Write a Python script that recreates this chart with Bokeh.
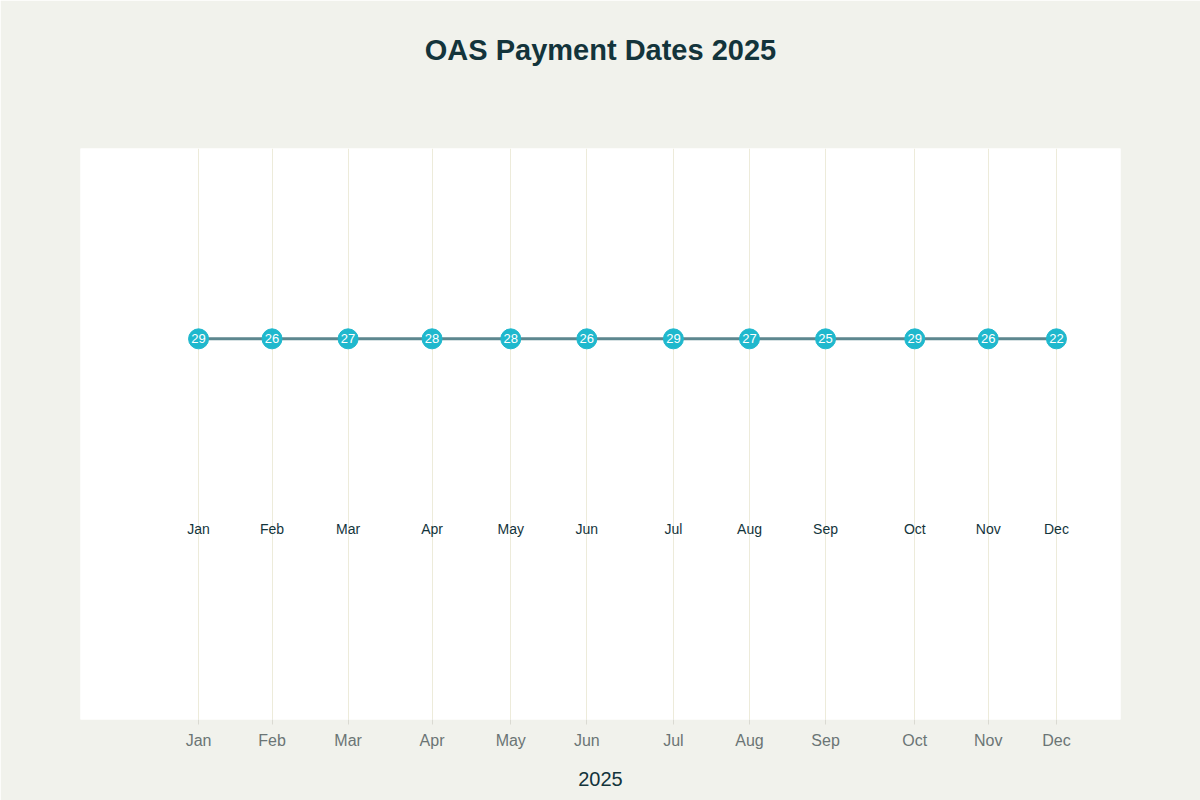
from datetime import datetime
from bokeh.plotting import figure
from bokeh.models import ColumnDataSource, FixedTicker, Range1d, Title
from bokeh.core.properties import value
from bokeh.embed import file_html
from bokeh.resources import INLINE

# ---- data ----
months = ["Jan", "Feb", "Mar", "Apr", "May", "Jun", "Jul", "Aug", "Sep", "Oct", "Nov", "Dec"]
pay_days = [29, 26, 27, 28, 28, 26, 29, 27, 25, 29, 26, 22]
year = 2025
marker_level = 1
label_level = -1

dates = [datetime(year, i + 1, d) for i, d in enumerate(pay_days)]
ms = [(dt - datetime(1970, 1, 1)).total_seconds() * 1000 for dt in dates]

src = ColumnDataSource(dict(
    x=dates,
    y=[marker_level] * len(dates),
    ly=[label_level] * len(dates),
    day=[str(d) for d in pay_days],
    month=months,
))

BG = "#F1F2EC"
TITLE_C = "#13343B"
FONT = "Liberation Sans"

p = figure(width=1200, height=800, x_axis_type="datetime",
           output_backend="svg", toolbar_location=None,
           x_range=Range1d(datetime(2024, 12, 15), datetime(2026, 1, 15, 10)),
           y_range=Range1d(-3, 3),
           min_border_left=80, min_border_right=80,
           min_border_top=0, min_border_bottom=81)

p.background_fill_color = "white"
p.border_fill_color = BG
p.outline_line_color = None

p.title.text = "OAS Payment Dates 2025"
p.title.align = "center"
p.title.text_font = FONT
p.title.text_font_size = "29px"
p.title.text_font_style = "bold"
p.title.text_color = TITLE_C
p.title.standoff = 62

# spacer between title and plot frame
spacer = Title(text=" ", text_font_size="20px", standoff=28)
p.add_layout(spacer, "above")

p.line("x", "y", source=src, line_color="#5D878F", line_width=3)
p.scatter("x", "y", source=src, size=20, fill_color="#1FB8CD", line_color="#1FB8CD")
p.text("x", "y", text="day", source=src, text_align="center", text_baseline="middle",
       text_color="white", text_font=value(FONT), text_font_size="13px")
p.text("x", "ly", text="month", source=src, text_align="center", text_baseline="middle",
       text_color=TITLE_C, text_font=value(FONT), text_font_size="14px")

p.xaxis.ticker = FixedTicker(ticks=ms)
p.xaxis.major_label_overrides = {m: lab for m, lab in zip(ms, months)}
p.xaxis.axis_label = str(year)
p.xaxis.axis_label_text_font = FONT
p.xaxis.axis_label_text_font_style = "normal"
p.xaxis.axis_label_text_font_size = "20px"
p.xaxis.axis_label_text_color = TITLE_C
p.xaxis.axis_label_standoff = 20
p.xaxis.major_label_text_font = FONT
p.xaxis.major_label_text_font_size = "16px"
p.xaxis.major_label_text_color = "#6B7575"
p.xaxis.major_label_standoff = 7
p.xaxis.axis_line_color = None
p.xaxis.major_tick_in = 0
p.xaxis.major_tick_out = 5
p.xaxis.major_tick_line_color = "#DADAD2"
p.xaxis.minor_tick_line_color = None

p.yaxis.visible = False
p.ygrid.grid_line_color = None
p.xgrid.grid_line_color = "#EDEBDA"
p.xgrid.grid_line_width = 1

open("out.html", "w").write(file_html(p, INLINE))
